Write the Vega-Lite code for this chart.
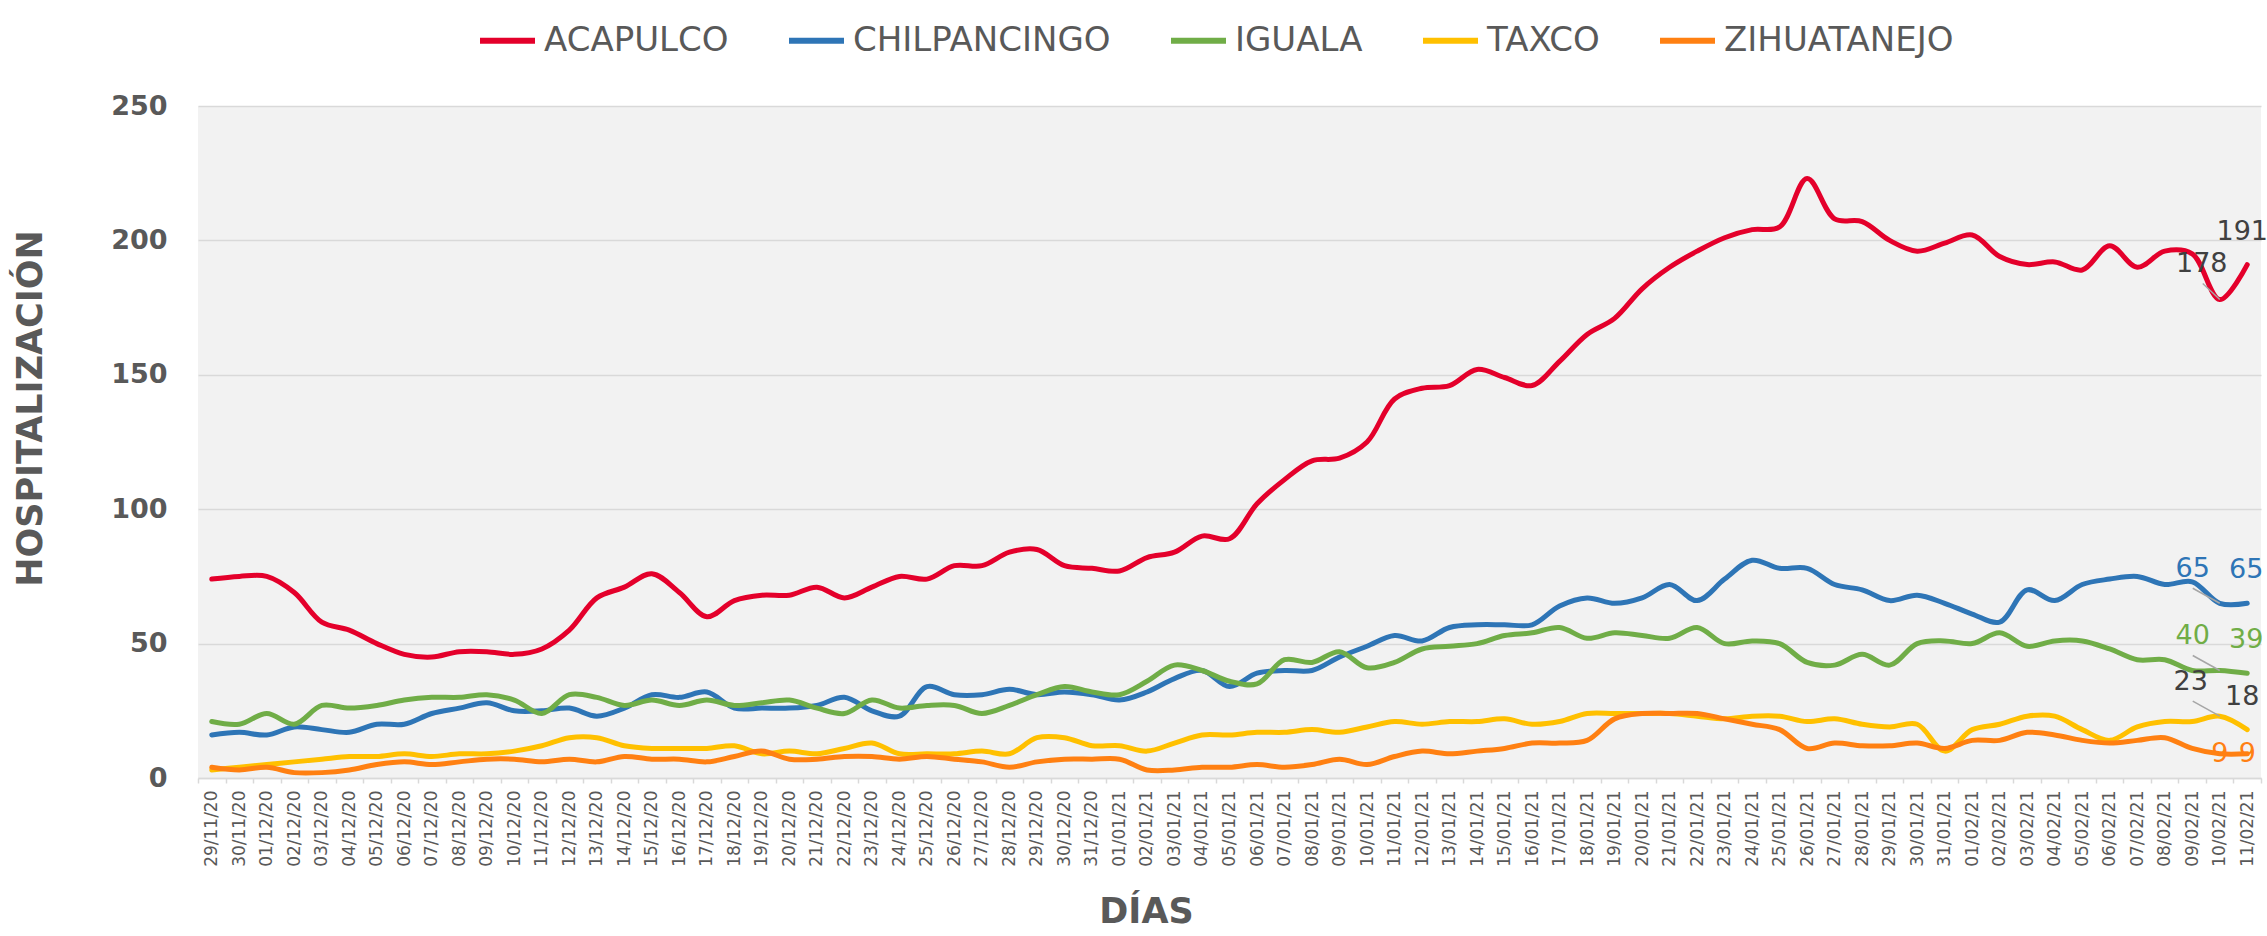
{
  "$schema": "https://vega.github.io/schema/vega-lite/v6.json",
  "autosize": "none",
  "width": 2063,
  "height": 672,
  "padding": {"left": 198, "top": 106, "right": 6, "bottom": 158},
  "background": "#FFFFFF",
  "config": {
    "view": {"fill": "#F2F2F2", "stroke": null},
    "font": "DejaVu Sans"
  },
  "data": {
    "values": [
      {"d":"29/11/20","ACAPULCO":74,"CHILPANCINGO":16,"IGUALA":21,"TAXCO":3,"ZIHUATANEJO":4},
      {"d":"30/11/20","ACAPULCO":75,"CHILPANCINGO":17,"IGUALA":20,"TAXCO":4,"ZIHUATANEJO":3},
      {"d":"01/12/20","ACAPULCO":75,"CHILPANCINGO":16,"IGUALA":24,"TAXCO":5,"ZIHUATANEJO":4},
      {"d":"02/12/20","ACAPULCO":69,"CHILPANCINGO":19,"IGUALA":20,"TAXCO":6,"ZIHUATANEJO":2},
      {"d":"03/12/20","ACAPULCO":58,"CHILPANCINGO":18,"IGUALA":27,"TAXCO":7,"ZIHUATANEJO":2},
      {"d":"04/12/20","ACAPULCO":55,"CHILPANCINGO":17,"IGUALA":26,"TAXCO":8,"ZIHUATANEJO":3},
      {"d":"05/12/20","ACAPULCO":50,"CHILPANCINGO":20,"IGUALA":27,"TAXCO":8,"ZIHUATANEJO":5},
      {"d":"06/12/20","ACAPULCO":46,"CHILPANCINGO":20,"IGUALA":29,"TAXCO":9,"ZIHUATANEJO":6},
      {"d":"07/12/20","ACAPULCO":45,"CHILPANCINGO":24,"IGUALA":30,"TAXCO":8,"ZIHUATANEJO":5},
      {"d":"08/12/20","ACAPULCO":47,"CHILPANCINGO":26,"IGUALA":30,"TAXCO":9,"ZIHUATANEJO":6},
      {"d":"09/12/20","ACAPULCO":47,"CHILPANCINGO":28,"IGUALA":31,"TAXCO":9,"ZIHUATANEJO":7},
      {"d":"10/12/20","ACAPULCO":46,"CHILPANCINGO":25,"IGUALA":29,"TAXCO":10,"ZIHUATANEJO":7},
      {"d":"11/12/20","ACAPULCO":48,"CHILPANCINGO":25,"IGUALA":24,"TAXCO":12,"ZIHUATANEJO":6},
      {"d":"12/12/20","ACAPULCO":55,"CHILPANCINGO":26,"IGUALA":31,"TAXCO":15,"ZIHUATANEJO":7},
      {"d":"13/12/20","ACAPULCO":67,"CHILPANCINGO":23,"IGUALA":30,"TAXCO":15,"ZIHUATANEJO":6},
      {"d":"14/12/20","ACAPULCO":71,"CHILPANCINGO":26,"IGUALA":27,"TAXCO":12,"ZIHUATANEJO":8},
      {"d":"15/12/20","ACAPULCO":76,"CHILPANCINGO":31,"IGUALA":29,"TAXCO":11,"ZIHUATANEJO":7},
      {"d":"16/12/20","ACAPULCO":69,"CHILPANCINGO":30,"IGUALA":27,"TAXCO":11,"ZIHUATANEJO":7},
      {"d":"17/12/20","ACAPULCO":60,"CHILPANCINGO":32,"IGUALA":29,"TAXCO":11,"ZIHUATANEJO":6},
      {"d":"18/12/20","ACAPULCO":66,"CHILPANCINGO":26,"IGUALA":27,"TAXCO":12,"ZIHUATANEJO":8},
      {"d":"19/12/20","ACAPULCO":68,"CHILPANCINGO":26,"IGUALA":28,"TAXCO":9,"ZIHUATANEJO":10},
      {"d":"20/12/20","ACAPULCO":68,"CHILPANCINGO":26,"IGUALA":29,"TAXCO":10,"ZIHUATANEJO":7},
      {"d":"21/12/20","ACAPULCO":71,"CHILPANCINGO":27,"IGUALA":26,"TAXCO":9,"ZIHUATANEJO":7},
      {"d":"22/12/20","ACAPULCO":67,"CHILPANCINGO":30,"IGUALA":24,"TAXCO":11,"ZIHUATANEJO":8},
      {"d":"23/12/20","ACAPULCO":71,"CHILPANCINGO":25,"IGUALA":29,"TAXCO":13,"ZIHUATANEJO":8},
      {"d":"24/12/20","ACAPULCO":75,"CHILPANCINGO":23,"IGUALA":26,"TAXCO":9,"ZIHUATANEJO":7},
      {"d":"25/12/20","ACAPULCO":74,"CHILPANCINGO":34,"IGUALA":27,"TAXCO":9,"ZIHUATANEJO":8},
      {"d":"26/12/20","ACAPULCO":79,"CHILPANCINGO":31,"IGUALA":27,"TAXCO":9,"ZIHUATANEJO":7},
      {"d":"27/12/20","ACAPULCO":79,"CHILPANCINGO":31,"IGUALA":24,"TAXCO":10,"ZIHUATANEJO":6},
      {"d":"28/12/20","ACAPULCO":84,"CHILPANCINGO":33,"IGUALA":27,"TAXCO":9,"ZIHUATANEJO":4},
      {"d":"29/12/20","ACAPULCO":85,"CHILPANCINGO":31,"IGUALA":31,"TAXCO":15,"ZIHUATANEJO":6},
      {"d":"30/12/20","ACAPULCO":79,"CHILPANCINGO":32,"IGUALA":34,"TAXCO":15,"ZIHUATANEJO":7},
      {"d":"31/12/20","ACAPULCO":78,"CHILPANCINGO":31,"IGUALA":32,"TAXCO":12,"ZIHUATANEJO":7},
      {"d":"01/01/21","ACAPULCO":77,"CHILPANCINGO":29,"IGUALA":31,"TAXCO":12,"ZIHUATANEJO":7},
      {"d":"02/01/21","ACAPULCO":82,"CHILPANCINGO":32,"IGUALA":36,"TAXCO":10,"ZIHUATANEJO":3},
      {"d":"03/01/21","ACAPULCO":84,"CHILPANCINGO":37,"IGUALA":42,"TAXCO":13,"ZIHUATANEJO":3},
      {"d":"04/01/21","ACAPULCO":90,"CHILPANCINGO":40,"IGUALA":40,"TAXCO":16,"ZIHUATANEJO":4},
      {"d":"05/01/21","ACAPULCO":89,"CHILPANCINGO":34,"IGUALA":36,"TAXCO":16,"ZIHUATANEJO":4},
      {"d":"06/01/21","ACAPULCO":102,"CHILPANCINGO":39,"IGUALA":35,"TAXCO":17,"ZIHUATANEJO":5},
      {"d":"07/01/21","ACAPULCO":111,"CHILPANCINGO":40,"IGUALA":44,"TAXCO":17,"ZIHUATANEJO":4},
      {"d":"08/01/21","ACAPULCO":118,"CHILPANCINGO":40,"IGUALA":43,"TAXCO":18,"ZIHUATANEJO":5},
      {"d":"09/01/21","ACAPULCO":119,"CHILPANCINGO":45,"IGUALA":47,"TAXCO":17,"ZIHUATANEJO":7},
      {"d":"10/01/21","ACAPULCO":125,"CHILPANCINGO":49,"IGUALA":41,"TAXCO":19,"ZIHUATANEJO":5},
      {"d":"11/01/21","ACAPULCO":141,"CHILPANCINGO":53,"IGUALA":43,"TAXCO":21,"ZIHUATANEJO":8},
      {"d":"12/01/21","ACAPULCO":145,"CHILPANCINGO":51,"IGUALA":48,"TAXCO":20,"ZIHUATANEJO":10},
      {"d":"13/01/21","ACAPULCO":146,"CHILPANCINGO":56,"IGUALA":49,"TAXCO":21,"ZIHUATANEJO":9},
      {"d":"14/01/21","ACAPULCO":152,"CHILPANCINGO":57,"IGUALA":50,"TAXCO":21,"ZIHUATANEJO":10},
      {"d":"15/01/21","ACAPULCO":149,"CHILPANCINGO":57,"IGUALA":53,"TAXCO":22,"ZIHUATANEJO":11},
      {"d":"16/01/21","ACAPULCO":146,"CHILPANCINGO":57,"IGUALA":54,"TAXCO":20,"ZIHUATANEJO":13},
      {"d":"17/01/21","ACAPULCO":155,"CHILPANCINGO":64,"IGUALA":56,"TAXCO":21,"ZIHUATANEJO":13},
      {"d":"18/01/21","ACAPULCO":165,"CHILPANCINGO":67,"IGUALA":52,"TAXCO":24,"ZIHUATANEJO":14},
      {"d":"19/01/21","ACAPULCO":171,"CHILPANCINGO":65,"IGUALA":54,"TAXCO":24,"ZIHUATANEJO":22},
      {"d":"20/01/21","ACAPULCO":182,"CHILPANCINGO":67,"IGUALA":53,"TAXCO":24,"ZIHUATANEJO":24},
      {"d":"21/01/21","ACAPULCO":190,"CHILPANCINGO":72,"IGUALA":52,"TAXCO":24,"ZIHUATANEJO":24},
      {"d":"22/01/21","ACAPULCO":196,"CHILPANCINGO":66,"IGUALA":56,"TAXCO":23,"ZIHUATANEJO":24},
      {"d":"23/01/21","ACAPULCO":201,"CHILPANCINGO":74,"IGUALA":50,"TAXCO":22,"ZIHUATANEJO":22},
      {"d":"24/01/21","ACAPULCO":204,"CHILPANCINGO":81,"IGUALA":51,"TAXCO":23,"ZIHUATANEJO":20},
      {"d":"25/01/21","ACAPULCO":205,"CHILPANCINGO":78,"IGUALA":50,"TAXCO":23,"ZIHUATANEJO":18},
      {"d":"26/01/21","ACAPULCO":223,"CHILPANCINGO":78,"IGUALA":43,"TAXCO":21,"ZIHUATANEJO":11},
      {"d":"27/01/21","ACAPULCO":208,"CHILPANCINGO":72,"IGUALA":42,"TAXCO":22,"ZIHUATANEJO":13},
      {"d":"28/01/21","ACAPULCO":207,"CHILPANCINGO":70,"IGUALA":46,"TAXCO":20,"ZIHUATANEJO":12},
      {"d":"29/01/21","ACAPULCO":200,"CHILPANCINGO":66,"IGUALA":42,"TAXCO":19,"ZIHUATANEJO":12},
      {"d":"30/01/21","ACAPULCO":196,"CHILPANCINGO":68,"IGUALA":50,"TAXCO":20,"ZIHUATANEJO":13},
      {"d":"31/01/21","ACAPULCO":199,"CHILPANCINGO":65,"IGUALA":51,"TAXCO":10,"ZIHUATANEJO":11},
      {"d":"01/02/21","ACAPULCO":202,"CHILPANCINGO":61,"IGUALA":50,"TAXCO":18,"ZIHUATANEJO":14},
      {"d":"02/02/21","ACAPULCO":194,"CHILPANCINGO":58,"IGUALA":54,"TAXCO":20,"ZIHUATANEJO":14},
      {"d":"03/02/21","ACAPULCO":191,"CHILPANCINGO":70,"IGUALA":49,"TAXCO":23,"ZIHUATANEJO":17},
      {"d":"04/02/21","ACAPULCO":192,"CHILPANCINGO":66,"IGUALA":51,"TAXCO":23,"ZIHUATANEJO":16},
      {"d":"05/02/21","ACAPULCO":189,"CHILPANCINGO":72,"IGUALA":51,"TAXCO":18,"ZIHUATANEJO":14},
      {"d":"06/02/21","ACAPULCO":198,"CHILPANCINGO":74,"IGUALA":48,"TAXCO":14,"ZIHUATANEJO":13},
      {"d":"07/02/21","ACAPULCO":190,"CHILPANCINGO":75,"IGUALA":44,"TAXCO":19,"ZIHUATANEJO":14},
      {"d":"08/02/21","ACAPULCO":196,"CHILPANCINGO":72,"IGUALA":44,"TAXCO":21,"ZIHUATANEJO":15},
      {"d":"09/02/21","ACAPULCO":195,"CHILPANCINGO":73,"IGUALA":40,"TAXCO":21,"ZIHUATANEJO":11},
      {"d":"10/02/21","ACAPULCO":178,"CHILPANCINGO":65,"IGUALA":40,"TAXCO":23,"ZIHUATANEJO":9},
      {"d":"11/02/21","ACAPULCO":191,"CHILPANCINGO":65,"IGUALA":39,"TAXCO":18,"ZIHUATANEJO":9}
    ]
  },
  "transform": [
    {"fold": ["ACAPULCO", "CHILPANCINGO", "IGUALA", "TAXCO", "ZIHUATANEJO"], "as": ["ciudad", "valor"]}
  ],
  "encoding": {
    "x": {
      "field": "d",
      "type": "ordinal",
      "sort": null,
      "scale": {"type": "band", "paddingInner": 0, "paddingOuter": 0},
      "axis": {
        "title": "DÍAS",
        "titleFont": "DejaVu Sans",
        "titleFontSize": 35,
        "titleFontWeight": "bold",
        "titleColor": "#595959",
        "titlePadding": 28,
        "titleX": 948,
        "labelAngle": -90,
        "labelFont": "DejaVu Sans",
        "labelFontSize": 17,
        "labelColor": "#595959",
        "labelPadding": 7,
        "labelOverlap": false,
        "tickBand": "extent",
        "tickColor": "#D9D9D9",
        "tickSize": 5,
        "tickWidth": 1.5,
        "domainColor": "#D9D9D9",
        "domainWidth": 1.5,
        "grid": false
      }
    },
    "y": {
      "field": "valor",
      "type": "quantitative",
      "scale": {"domain": [0, 250], "nice": false},
      "axis": {
        "title": "HOSPITALIZACIÓN",
        "titleFont": "DejaVu Sans",
        "titleFontSize": 35,
        "titleFontWeight": "bold",
        "titleColor": "#595959",
        "titlePadding": 62,
        "titleY": 302,
        "values": [0, 50, 100, 150, 200, 250],
        "labelFont": "DejaVu Sans",
        "labelFontSize": 27,
        "labelFontWeight": "bold",
        "labelColor": "#595959",
        "labelPadding": 31,
        "domain": false,
        "ticks": false,
        "grid": true,
        "gridColor": "#D9D9D9",
        "gridWidth": 1.5
      }
    }
  },
  "layer": [
    {
      "mark": {"type": "line", "interpolate": "catmull-rom", "strokeWidth": 5, "strokeCap": "round"},
      "encoding": {
        "color": {
          "field": "ciudad",
          "type": "nominal",
          "scale": {
            "domain": ["ACAPULCO", "CHILPANCINGO", "IGUALA", "TAXCO", "ZIHUATANEJO"],
            "range": ["#E4002B", "#2E75B6", "#70AD47", "#FFC000", "#FF8012"]
          },
          "legend": {
            "title": null,
            "orient": "none",
            "direction": "horizontal",
            "legendX": 279,
            "legendY": -96,
            "symbolType": "stroke",
            "symbolSize": 3025,
            "symbolStrokeWidth": 6,
            "labelFont": "DejaVu Sans",
            "labelFontSize": 34,
            "labelColor": "#595959",
            "labelOffset": 6,
            "columnPadding": 48,
            "labelLimit": 400
          }
        }
      }
    },
    {
      "transform": [{"filter": "datum.d == '10/02/21' && datum.ciudad != 'ACAPULCO' && datum.ciudad != 'ZIHUATANEJO'"}],
      "mark": {"type": "rule", "color": "#A6A6A6", "strokeWidth": 1.5, "xOffset": -27, "yOffset": -15},
      "encoding": {
        "x2": {"field": "d"},
        "y2": {"field": "valor"}
      }
    },
    {
      "transform": [{"filter": "datum.d == '10/02/21' && datum.ciudad == 'ACAPULCO'"}],
      "mark": {"type": "rule", "color": "#A6A6A6", "strokeWidth": 1.5, "xOffset": -17, "yOffset": -16},
      "encoding": {
        "x2": {"field": "d"},
        "y2": {"field": "valor"}
      }
    },
    {
      "transform": [{"filter": "datum.d == '10/02/21' && datum.ciudad == 'ACAPULCO'"}],
      "mark": {"type": "text", "font": "DejaVu Sans", "fontSize": 27, "color": "#404040", "dx": -18, "dy": -28, "baseline": "alphabetic"},
      "encoding": {"text": {"field": "valor", "type": "quantitative"}}
    },
    {
      "transform": [{"filter": "datum.d == '10/02/21' && datum.ciudad == 'TAXCO'"}],
      "mark": {"type": "text", "font": "DejaVu Sans", "fontSize": 27, "color": "#404040", "dx": -29, "dy": -26, "baseline": "alphabetic"},
      "encoding": {"text": {"field": "valor", "type": "quantitative"}}
    },
    {
      "transform": [{"filter": "datum.d == '10/02/21' && (datum.ciudad == 'CHILPANCINGO' || datum.ciudad == 'IGUALA')"}],
      "mark": {"type": "text", "font": "DejaVu Sans", "fontSize": 27, "dx": -27, "dy": -26, "baseline": "alphabetic"},
      "encoding": {
        "text": {"field": "valor", "type": "quantitative"},
        "color": {"field": "ciudad", "type": "nominal"}
      }
    },
    {
      "transform": [{"filter": "datum.d == '11/02/21' && (datum.ciudad == 'ACAPULCO' || datum.ciudad == 'TAXCO')"}],
      "mark": {"type": "text", "font": "DejaVu Sans", "fontSize": 27, "color": "#404040", "dx": -5, "dy": -25, "baseline": "alphabetic"},
      "encoding": {"text": {"field": "valor", "type": "quantitative"}}
    },
    {
      "transform": [{"filter": "datum.d == '11/02/21' && (datum.ciudad == 'CHILPANCINGO' || datum.ciudad == 'IGUALA')"}],
      "mark": {"type": "text", "font": "DejaVu Sans", "fontSize": 27, "dx": -1, "dy": -25, "baseline": "alphabetic"},
      "encoding": {
        "text": {"field": "valor", "type": "quantitative"},
        "color": {"field": "ciudad", "type": "nominal"}
      }
    },
    {
      "transform": [{"filter": "(datum.d == '10/02/21' || datum.d == '11/02/21') && datum.ciudad == 'ZIHUATANEJO'"}],
      "mark": {"type": "text", "font": "DejaVu Sans", "fontSize": 27, "dx": 0, "dy": 0, "baseline": "middle"},
      "encoding": {
        "text": {"field": "valor", "type": "quantitative"},
        "color": {"field": "ciudad", "type": "nominal"}
      }
    }
  ]
}
